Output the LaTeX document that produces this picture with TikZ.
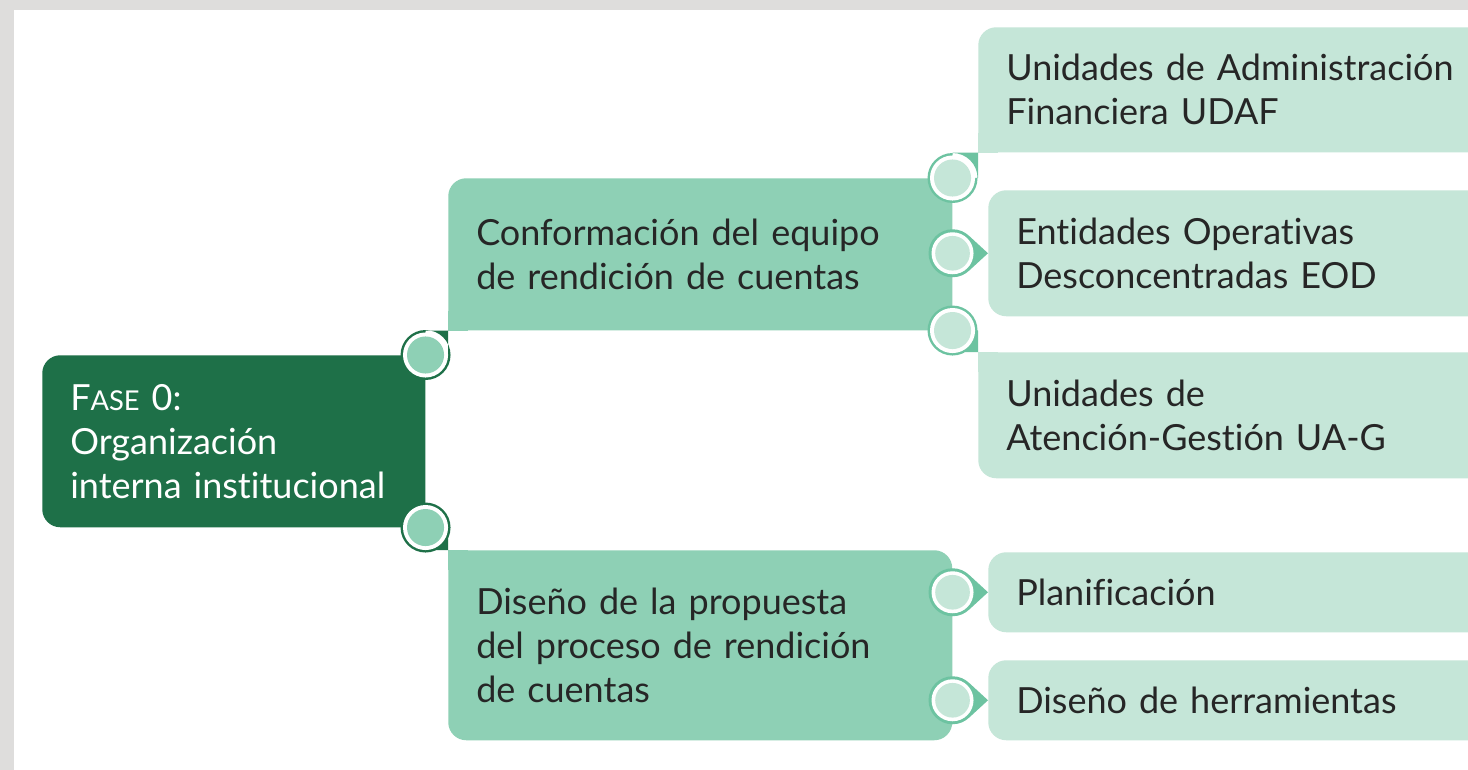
\documentclass[tikz,border=0pt]{standalone}
\usepackage{fontspec}
\setmainfont{Lato}[Ligatures=NoCommon]
\usepackage{tikz}
\usetikzlibrary{calc}

\definecolor{fasegreen}{HTML}{1E7048}
\definecolor{midgreen}{HTML}{8ED0B5}
\definecolor{lightgreen}{HTML}{C5E6D8}
\definecolor{knobgreen}{HTML}{6DC3A1}
\definecolor{pagegray}{HTML}{DEDDDC}
\definecolor{inkgray}{HTML}{262626}
\newcommand{\boxfont}{\fontsize{27}{33}\selectfont}

\begin{document}
\begin{tikzpicture}[x=0.75pt,y=-0.75pt,
    block_main/.style ={rectangle, fill=fasegreen, text=white,
      rounded corners=13.5pt, anchor=north west, inner xsep=21pt,
      align=left, font=\boxfont},
    block_mid/.style ={block_main, fill=midgreen, text=inkgray},
    block_leaf/.style ={block_main, fill=lightgreen, text=inkgray,
      text width=340pt}]
    \useasboundingbox (0,0) rectangle (1468,770);
    \fill[pagegray] (0,0) rectangle (1468,770);
    \fill[white] (14,10) rectangle (1468,770);
    % phase box
    \node[block_main, text width=245.25pt, minimum height=129pt] (fase) at (42,355)
      {F{\fontsize{20.5}{33}\selectfont ASE} 0:\\Organización\\interna institucional};
    % second level
    \node[block_mid, text width=336pt, minimum height=114pt] (conf) at (448,178)
      {Conformación del equipo\\de rendición de cuentas};
    \node[block_mid, text width=336pt, minimum height=142.5pt] (dis) at (448,550)
      {Diseño de la propuesta\\del proceso de rendición\\de cuentas};
    % third level
    \node[block_leaf, minimum height=93.75pt] (udaf) at (978,27)
      {Unidades de Administración\\Financiera UDAF};
    \node[block_leaf, minimum height=94.5pt] (eod) at (988,190)
      {Entidades Operativas\\Desconcentradas EOD};
    \node[block_leaf, minimum height=94.5pt] (uag) at (978,352)
      {Unidades de\\Atención-Gestión UA-G};
    \node[block_leaf, minimum height=60pt] (plan) at (988,552)
      {Planificación};
    \node[block_leaf, minimum height=60pt] (herr) at (988,660)
      {Diseño de herramientas};
    % square corners next to the knobs
    \fill[midgreen] (conf.south west) rectangle ++(20,-20);
    \fill[midgreen] (dis.north west) rectangle ++(20,20);
    \fill[lightgreen] (udaf.south west) rectangle ++(20,-20);
    \fill[lightgreen] (uag.north west) rectangle ++(20,20);
    % corner knobs
    \foreach \a/\b/\ca/\cb in {fase.north east/conf.south west/fasegreen/midgreen,
        fase.south east/dis.north west/fasegreen/midgreen,
        conf.north east/udaf.south west/knobgreen/lightgreen,
        conf.south east/uag.north west/knobgreen/lightgreen} {
      \fill[\ca] (\a) circle (18.75pt) (\a) rectangle (\b);
      \fill[white] (\a) circle (16.9pt);
      \fill[\cb] (\a) circle (13.9pt);
    }
    % pointing knobs
    \foreach \a/\b in {conf/eod, dis/plan, dis/herr} {
      \coordinate (k) at (\a.east |- \b.west);
      \fill[knobgreen] (k) circle (18pt) (\b.west) -- ($(k)+(48:18pt)$)
        -- ($(k)+(-48:18pt)$) -- cycle;
      \fill[white] (k) circle (15.75pt);
      \fill[lightgreen] (k) circle (13pt);
    }
\end{tikzpicture}
\end{document}
